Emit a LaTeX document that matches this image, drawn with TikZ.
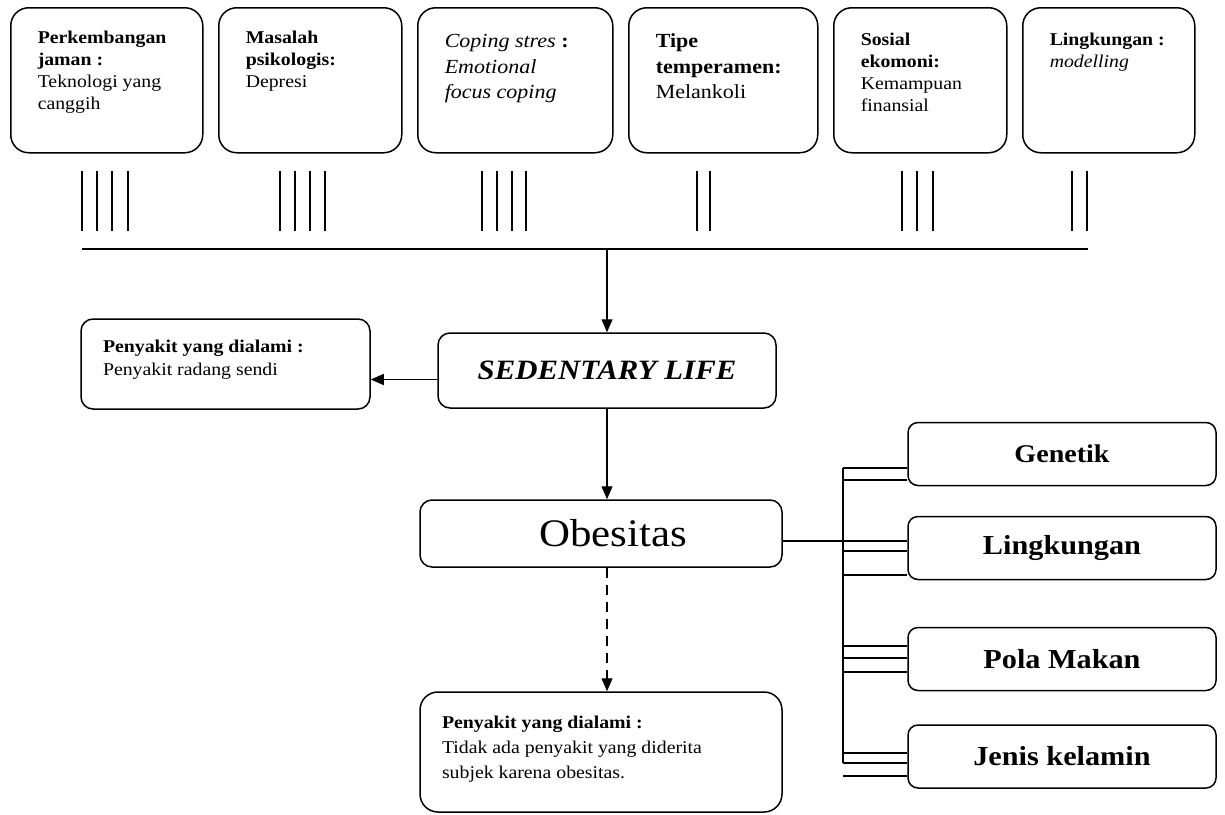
\documentclass[tikz,border=0pt]{standalone}
\usepackage{fontspec}
\setmainfont[FakeStretch=1.1]{Liberation Serif}
\usetikzlibrary{arrows.meta,positioning}

\begin{document}
\begin{tikzpicture}[x=1pt, y=1pt, line width=1.3pt, node distance=14.5pt,
  factor/.style={draw, line width=1.5pt, rounded corners=18pt, inner xsep=27pt, inner ysep=0pt, font=\fontsize{18}{22}\selectfont},
  bigfactor/.style={factor, font=\fontsize{20}{25.5}\selectfont},
  note/.style={draw, line width=1.5pt, rounded corners=12pt, inner xsep=22pt, inner ysep=0pt, font=\fontsize{18}{23}\selectfont},
  central/.style={draw, line width=1.5pt, rounded corners=12pt, align=center},
  cause/.style={draw, line width=1.5pt, rounded corners=10pt, align=center, minimum width=308pt, minimum height=63pt, font=\bfseries\fontsize{27.5}{30}\selectfont},
  flow/.style={-{Triangle[length=13pt,width=11pt]}},
  tick/.style={line width=1.6pt}]
\useasboundingbox (0,0) rectangle (1225,-814);
% faktor penyebab
\node[factor, anchor=north west] (jaman) at (10,-7) {\parbox[c][145pt][t]{138pt}{\rule{0pt}{36pt}\textbf{Perkembangan}\\\textbf{jaman~:}\\Teknologi yang\\canggih}};
\node[factor, right=of jaman] (psikologis) {\parbox[c][145pt][t]{129pt}{\rule{0pt}{36pt}\textbf{Masalah}\\\textbf{psikologis:}\\Depresi}};
\node[bigfactor, right=of psikologis] (coping) {\parbox[c][145pt][t]{141pt}{\rule{0pt}{40pt}\textit{Coping stres}~\textbf{:}\\\textit{Emotional}\\\textit{focus coping}}};
\node[bigfactor, right=of coping] (temperamen) {\parbox[c][145pt][t]{135pt}{\rule{0pt}{40pt}\textbf{Tipe}\\\textbf{temperamen:}\\Melankoli}};
\node[factor, right=of temperamen] (ekonomi) {\parbox[c][145pt][t]{119pt}{\rule{0pt}{38pt}\textbf{Sosial}\\\textbf{ekomoni:}\\Kemampuan\\finansial}};
\node[factor, right=of ekonomi] (modelling) {\parbox[c][145pt][t]{118pt}{\rule{0pt}{38pt}\textbf{Lingkungan~:}\\\textit{modelling}}};
% garis bobot
\foreach \x in {82,97,112,128, 280,295,310,325, 482,497,512,526, 697,710, 902,917,933, 1072,1087}
  \draw[tick] (\x,-171) -- (\x,-231);
\coordinate (barL) at (82,-249);
\coordinate (barR) at (1088,-249);
\draw[tick] (barL) -- (barR);
% alur utama
\node[central, minimum width=338pt, minimum height=75pt, font=\bfseries\itshape\fontsize{28}{30}\selectfont] (sedentary) at (607,-370.5) {SEDENTARY LIFE};
\node[note] (radang) at (225.5,-364) {\parbox[c][90pt][t]{245pt}{\rule{0pt}{33pt}\textbf{Penyakit yang dialami :}\\Penyakit radang sendi}};
\node[central, minimum width=362pt, minimum height=67pt, font=\fontsize{39}{42}\selectfont] (obesitas) at (601,-533.5) {\hspace*{24pt}Obesitas};
\node[note, rounded corners=18pt, font=\fontsize{18}{25}\selectfont] (dampak) at (601,-752) {\parbox[c][120pt][t]{318pt}{\rule{0pt}{36pt}\textbf{Penyakit yang dialami :}\\Tidak ada penyakit yang diderita\\subjek karena obesitas.}};
\draw[flow] (sedentary.north |- barL) -- (sedentary.north);
\draw[flow] ([yshift=-9pt]sedentary.west) -- ([yshift=-9pt]sedentary.west -| radang.east);
\draw[flow] (sedentary.south) -- (sedentary.south |- obesitas.north);
\draw[flow, dash pattern=on 10pt off 7pt] (sedentary.south |- obesitas.south) -- (sedentary.south |- dampak.north);
% faktor obesitas
\node[cause, font=\bfseries\fontsize{25.5}{28}\selectfont] (genetik) at (1062,-454) {Genetik};
\node[cause] (lingkungan) at (1062,-548) {Lingkungan};
\node[cause] (polamakan) at (1062,-659) {Pola Makan};
\node[cause] (kelamin) at (1062,-756.5) {Jenis kelamin};
\coordinate (trunkT) at (843,-468);
\coordinate (trunkB) at (843,-763);
\draw (trunkT) -- (trunkB);
\draw ([yshift=7pt]lingkungan.west -| obesitas.east) -- ([yshift=7pt]lingkungan.west);
\foreach \dy in {-14,-26}
  \draw ([yshift=\dy pt]genetik.west) -- ([yshift=\dy pt]genetik.west -| trunkT);
\foreach \dy in {-3,-27}
  \draw ([yshift=\dy pt]lingkungan.west) -- ([yshift=\dy pt]lingkungan.west -| trunkT);
\foreach \dy in {13,1,-13}
  \draw ([yshift=\dy pt]polamakan.west) -- ([yshift=\dy pt]polamakan.west -| trunkT);
\foreach \dy in {3.5,-6.5,-19.5}
  \draw ([yshift=\dy pt]kelamin.west) -- ([yshift=\dy pt]kelamin.west -| trunkT);
\end{tikzpicture}
\end{document}
